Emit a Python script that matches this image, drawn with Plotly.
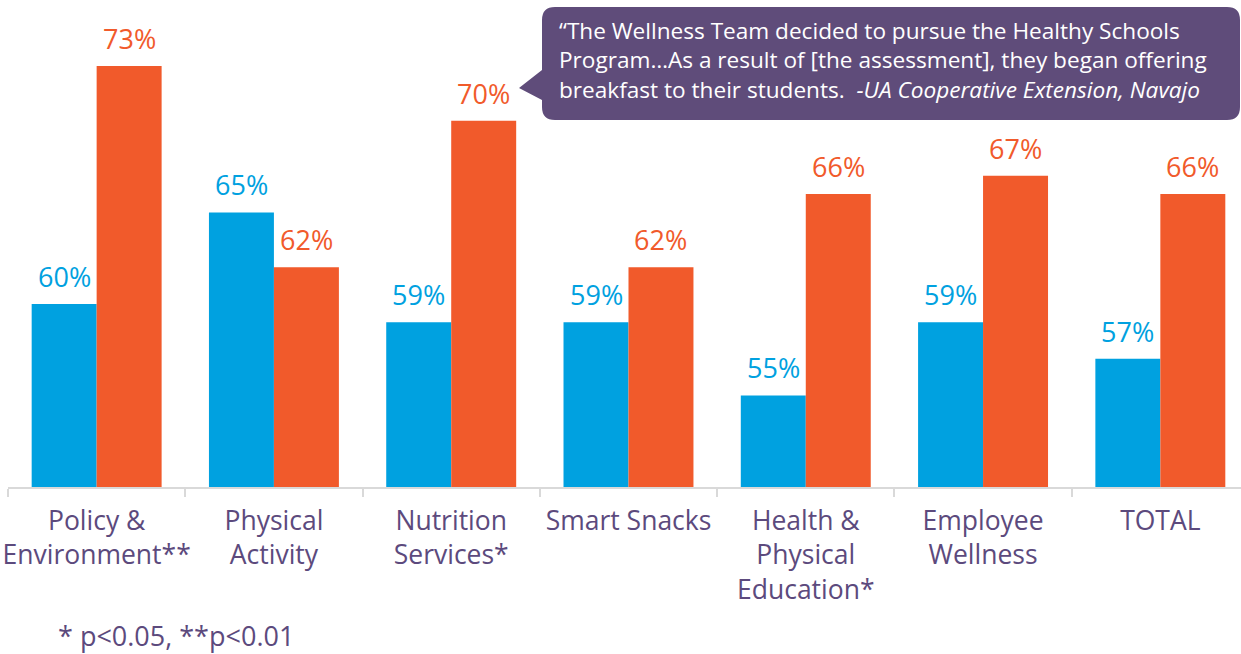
import plotly.graph_objects as go

categories = ["Policy &<br>Environment**", "Physical<br>Activity", "Nutrition<br>Services*",
              "Smart Snacks", "Health &<br>Physical<br>Education*", "Employee<br>Wellness", "TOTAL"]
baseline = [60, 65, 59, 59, 55, 59, 57]
followup = [73, 62, 70, 62, 66, 67, 66]

BLUE = "#00A1E0"
ORANGE = "#F15A2B"
PURPLE = "#5C4A7D"
BOX = "#5F4C7A"
FONT = "Open Sans"

W, H = 1241, 654
ML, MR, MT, MB = 8, 0, 0, 167
Y_MIN, Y_MAX = 50, 76.6
X_MAX = 6.455
BARGAP = 0.267

fig = go.Figure()
fig.add_trace(go.Bar(x=categories, y=baseline, marker_color=BLUE, marker_line_width=0, name="Baseline"))
fig.add_trace(go.Bar(x=categories, y=followup, marker_color=ORANGE, marker_line_width=0, name="Follow-up"))

# value labels above each bar
half = (1 - BARGAP) / 4
annotations = []
for i in range(len(categories)):
    for vals, col, off in ((baseline, BLUE, -half), (followup, ORANGE, half)):
        annotations.append(dict(x=i + off, y=vals[i], xref="x", yref="y", text=f"{vals[i]}%",
                                showarrow=False, yanchor="bottom", yshift=7,
                                font=dict(family=FONT, size=27, color=col)))

# pixel -> paper helpers
pw, ph = W - ML - MR, H - MT - MB
def px(x):
    return (x - ML) / pw
def py(y):
    return 1 - (y - MT) / ph

# quote callout: rounded box with a pointer on the left
x0, x1, y0, y1, r = 542, 1240, 7, 120, 13
tip_x, tip_y, b0, b1 = 519, 88, 70, 100
pts = [
    f"M {px(x0 + r)},{py(y0)}",
    f"L {px(x1 - r)},{py(y0)}",
    f"Q {px(x1)},{py(y0)} {px(x1)},{py(y0 + r)}",
    f"L {px(x1)},{py(y1 - r)}",
    f"Q {px(x1)},{py(y1)} {px(x1 - r)},{py(y1)}",
    f"L {px(x0 + r)},{py(y1)}",
    f"Q {px(x0)},{py(y1)} {px(x0)},{py(y1 - r)}",
    f"L {px(x0)},{py(b1)}",
    f"L {px(tip_x)},{py(tip_y)}",
    f"L {px(x0)},{py(b0)}",
    f"L {px(x0)},{py(y0 + r)}",
    f"Q {px(x0)},{py(y0)} {px(x0 + r)},{py(y0)}",
    "Z",
]
shapes = [dict(type="path", xref="paper", yref="paper", path=" ".join(pts),
               fillcolor=BOX, line=dict(width=0), layer="above")]

quote = ("\u201cThe Wellness Team decided to pursue the Healthy Schools<br>"
         "Program\u2026As a result of [the assessment], they began offering<br>"
         "breakfast to their students.  <i>-UA Cooperative Extension, Navajo</i>")
annotations.append(dict(x=px(557), y=py(60), xref="paper", yref="paper", text=quote,
                        showarrow=False, xanchor="left", yanchor="middle", align="left",
                        font=dict(family=FONT, size=22.6, color="white")))

annotations.append(dict(x=px(56), y=py(635), xref="paper", yref="paper",
                        text="* p<0.05, **p<0.01", showarrow=False,
                        xanchor="left", yanchor="middle",
                        font=dict(family=FONT, size=27, color=PURPLE)))

fig.update_layout(
    width=W, height=H, margin=dict(l=ML, r=MR, t=MT, b=MB),
    paper_bgcolor="white", plot_bgcolor="white",
    barmode="group", bargap=BARGAP, bargroupgap=0,
    showlegend=False, shapes=shapes, annotations=annotations,
    xaxis=dict(type="category", range=[-0.5, X_MAX],
               showline=True, linecolor="#D9D9D9", linewidth=2,
               ticks="outside", tickson="boundaries", ticklen=8, tickcolor="#D9D9D9", tickwidth=2,
               ticklabelstandoff=9,
               tickfont=dict(family=FONT, size=26.5, color=PURPLE), tickangle=0,
               showgrid=False, zeroline=False, fixedrange=True),
    yaxis=dict(range=[Y_MIN, Y_MAX], visible=False, showgrid=False, zeroline=False),
)

fig.write_html("out.html")
